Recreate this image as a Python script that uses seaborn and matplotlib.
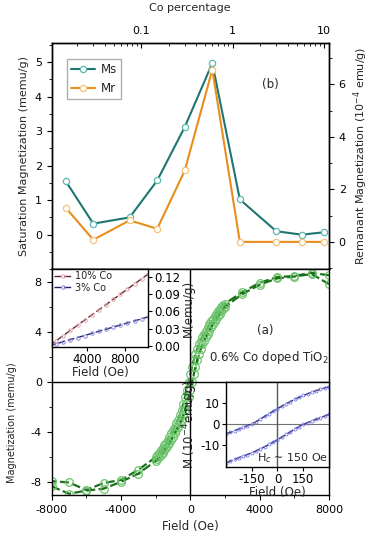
import matplotlib
matplotlib.use("Agg")
import matplotlib.pyplot as plt
import seaborn as sns
from matplotlib.ticker import MultipleLocator, NullFormatter

sns.set_style("ticks", {"axes.edgecolor": "black", "xtick.color": "black", "ytick.color": "black"})
plt.rcParams['font.family'] = ['DejaVu Sans']
plt.rcParams['axes.linewidth'] = 1.0
plt.rcParams['axes.unicode_minus'] = False
plt.rcParams['xtick.labelsize'] = 8
plt.rcParams['ytick.labelsize'] = 8
plt.rcParams['axes.labelsize'] = 8

# ---- (b) Co percentage dependence
co_pct = [0.015, 0.03, 0.075, 0.15, 0.3, 0.6, 1.2, 3.0, 5.7, 10.0]
ms_values = [1.55, 0.32, 0.50, 1.57, 3.12, 4.97, 1.02, 0.10, 0.00, 0.07]
mr_values = [1.30, 0.08, 0.82, 0.50, 2.72, 6.56, 0.00, 0.00, 0.00, 0.00]

# ---- (a) hysteresis loop, 0.6% Co doped TiO2
field_down = [8000, 7000, 6000, 5000, 4000, 3000, 2000,
              1900, 1800, 1700, 1600, 1500, 1400, 1300, 1200, 1100, 1000,
              900, 800, 700, 600, 500, 400, 300, 200, 100, 0,
              -100, -200, -300, -400, -500, -600, -700, -800, -900, -1000,
              -1100, -1200, -1300, -1400, -1500, -1600, -1700, -1800, -1900,
              -2000, -3000, -4000, -5000, -6000, -7000, -8000]
m_down = [8.5, 8.7, 8.45, 8.35, 7.9, 7.15, 6.25,
          6.15, 6.0, 5.85, 5.65, 5.45, 5.25, 5.05, 4.85, 4.6, 4.35,
          4.1, 3.85, 3.6, 3.3, 3.0, 2.6, 2.2, 1.75, 1.2, 0.6,
          0.0, -0.6, -1.2, -1.75, -2.2, -2.6, -3.0, -3.3, -3.6, -3.85,
          -4.1, -4.35, -4.6, -4.85, -5.05, -5.25, -5.45, -5.65, -5.85,
          -6.0, -7.0, -7.8, -8.05, -8.6, -8.0, -7.9]
field_up = [-8000, -7000, -6000, -5000, -4000, -3000, -2000,
            -1900, -1800, -1700, -1600, -1500, -1400, -1300, -1200, -1100, -1000,
            -900, -800, -700, -600, -500, -400, -300, -200, -100, 0,
            100, 200, 300, 400, 500, 600, 700, 800, 900, 1000,
            1100, 1200, 1300, 1400, 1500, 1600, 1700, 1800, 1900,
            2000, 3000, 4000, 5000, 6000, 7000, 8000]
m_up = [-8.3, -8.9, -8.65, -8.5, -7.95, -7.3, -6.3,
        -6.15, -6.0, -5.85, -5.65, -5.45, -5.25, -5.05, -4.85, -4.6, -4.35,
        -4.1, -3.85, -3.6, -3.3, -3.0, -2.6, -2.2, -1.75, -1.2, -0.6,
        0.0, 0.6, 1.2, 1.75, 2.2, 2.6, 3.0, 3.3, 3.6, 3.85,
        4.1, 4.35, 4.6, 4.85, 5.05, 5.25, 5.45, 5.65, 5.85,
        6.0, 7.0, 7.75, 8.25, 8.4, 8.6, 7.8]

# ---- inset: 10% and 3% Co, M(emu/g) vs field
inset_field = [0, 750, 1500, 2250, 3000, 3750, 4500, 5250, 6000, 6750,
               7500, 8250, 9000, 9750, 10500]
m_10pct = [0.000, 0.009, 0.018, 0.027, 0.036, 0.045, 0.054, 0.063, 0.072,
           0.081, 0.090, 0.099, 0.108, 0.117, 0.126]
m_3pct = [0.000, 0.0036, 0.0072, 0.011, 0.0145, 0.018, 0.0218, 0.0254,
          0.029, 0.0327, 0.0363, 0.040, 0.0436, 0.047, 0.051]

# ---- inset: low field loop (10^-4 emu/g)
low_field = [-300, -275, -250, -225, -200, -175, -150, -125, -100, -75, -50, -25, 0,
             25, 50, 75, 100, 125, 150, 175, 200, 225, 250, 275, 300]
low_upper = [-4.6, -3.9, -3.1, -2.3, -1.5, -0.7, 0.1, 1.2, 2.4, 3.7, 4.9, 6.2, 7.4,
             8.6, 9.7, 10.8, 11.8, 12.8, 13.7, 14.5, 15.3, 16.0, 16.7, 17.3, 17.9]
low_lower = [-18.5, -17.6, -16.8, -16.0, -15.3, -14.5, -13.7, -12.8, -11.8, -10.8, -9.7, -8.6, -7.4,
             -6.2, -4.9, -3.7, -2.4, -1.2, -0.1, 0.7, 1.5, 2.3, 3.1, 3.9, 4.7]

ms_color = '#1f7670'
mr_color = '#e98d1c'
loop_line = '#1c701c'
loop_marker = '#6cc46c'

fig = plt.figure(figsize=(3.79, 5.46), dpi=100)

# Panel (b)
ax_b = fig.add_axes([0.136, 0.507, 0.732, 0.414])
ax_r = ax_b.twinx()
sns.lineplot(x=co_pct, y=ms_values, ax=ax_b, color=ms_color, lw=1.5, marker='o',
             markersize=4.5, markerfacecolor='white', markeredgecolor='#5cb8b2',
             markeredgewidth=0.9, label='Ms', legend=False)
sns.lineplot(x=co_pct, y=mr_values, ax=ax_r, color=mr_color, lw=1.5, marker='o',
             markersize=4.5, markerfacecolor='white', markeredgecolor='#f5c27a',
             markeredgewidth=0.9, label='Mr', legend=False)
ax_b.set_xscale('log')
ax_b.set_xlim(0.0105, 11.3)
ax_b.set_ylim(-1.0, 5.55)
ax_r.set_ylim(-1.04, 7.57)
ax_b.xaxis.tick_top()
ax_b.xaxis.set_label_position('top')
ax_b.set_xticks([0.1, 1, 10], labels=['0.1', '1', '10'])
ax_b.xaxis.set_minor_formatter(NullFormatter())
ax_b.tick_params(axis='x', which='both', direction='in', top=True, bottom=False, pad=5)
ax_b.set_xlabel('Co percentage', labelpad=11)
ax_b.set_yticks([0, 1, 2, 3, 4, 5])
ax_b.yaxis.set_minor_locator(MultipleLocator(0.5))
ax_r.set_yticks([0, 2, 4, 6])
ax_r.yaxis.set_minor_locator(MultipleLocator(1))
ax_b.set_ylabel('Saturation Magnetization (memu/g)')
ax_r.set_ylabel('Remanant Magnetization (10$^{-4}$ emu/g)')
h1, l1 = ax_b.get_legend_handles_labels()
h2, l2 = ax_r.get_legend_handles_labels()
ax_r.legend(h1 + h2, l1 + l2, loc='upper left', bbox_to_anchor=(0.035, 0.955),
            fontsize=8.5, frameon=True, fancybox=False, edgecolor='0.6',
            handlelength=2.0, borderpad=0.35, labelspacing=0.45, handletextpad=0.5)
ax_b.text(0.79, 0.80, '(b)', transform=ax_b.transAxes, fontsize=8.5, ha='center')

# Panel (a)
ax_a = fig.add_axes([0.136, 0.0934, 0.732, 0.4139])
for fx, fy in [(field_down, m_down), (field_up, m_up)]:
    sns.lineplot(x=fx, y=fy, ax=ax_a, sort=False, estimator=None, color=loop_line,
                 lw=1.6, linestyle=(0, (4, 1.5)), marker='o', markersize=5.5,
                 markerfacecolor='none', markeredgecolor=loop_marker,
                 markeredgewidth=0.9, legend=False)
ax_a.axhline(0, color='black', lw=1.0)
ax_a.axvline(0, color='black', lw=1.0)
ax_a.set_xlim(-8000, 8000)
ax_a.set_ylim(-9, 9)
ax_a.set_xticks([-8000, -4000, 0, 4000, 8000])
ax_a.xaxis.set_minor_locator(MultipleLocator(2000))
ax_a.set_yticks([-8, -4, 0, 4, 8])
ax_a.yaxis.set_minor_locator(MultipleLocator(2))
ax_a.set_xlabel('Field (Oe)', fontsize=8.5)
ax_a.set_ylabel('Magnetization (memu/g)', fontsize=7)
ax_a.yaxis.set_label_coords(-0.125, 0.32)
ax_a.text(4300, 3.8, '(a)', fontsize=8.5, ha='center')
ax_a.text(4500, 1.7, '0.6% Co doped TiO$_2$', fontsize=8.5, ha='center')

# Inset: 10% / 3% Co
ax_i1 = fig.add_axes([0.137, 0.3645, 0.2533, 0.1429])
ax_i1.set_facecolor('white')
sns.lineplot(x=inset_field, y=m_10pct, ax=ax_i1, color='#5e2a36', lw=1.0,
             linestyle=(0, (5, 2)), marker='o', markersize=2.5, markerfacecolor='none',
             markeredgecolor='#e6a6a6', markeredgewidth=0.7, label='10% Co', legend=False)
sns.lineplot(x=inset_field, y=m_3pct, ax=ax_i1, color='#22225e', lw=1.0,
             linestyle=(0, (5, 2)), marker='o', markersize=2.5, markerfacecolor='none',
             markeredgecolor='#8a8ae0', markeredgewidth=0.7, label='3% Co', legend=False)
ax_i1.set_xlim(300, 10400)
ax_i1.set_ylim(-0.002, 0.134)
ax_i1.set_xticks([4000, 8000])
ax_i1.set_yticks([0.0, 0.03, 0.06, 0.09, 0.12], labels=['0.00', '0.03', '0.06', '0.09', '0.12'])
ax_i1.yaxis.tick_right()
ax_i1.yaxis.set_label_position('right')
ax_i1.tick_params(labelsize=8.5, pad=1.5, length=3)
ax_i1.set_ylabel('M(emu/g)', fontsize=8.5, labelpad=1)
ax_i1.set_xlabel('Field (Oe)', fontsize=8.5, labelpad=0)
ax_i1.legend(loc='upper left', fontsize=7, frameon=False, handlelength=1.8,
             borderaxespad=0.1, borderpad=0.1, labelspacing=0.2, handletextpad=0.4)

# Inset: low field loop
ax_i2 = fig.add_axes([0.5963, 0.1453, 0.2717, 0.1557])
ax_i2.set_facecolor('white')
ax_i2.axhline(0, color='0.45', lw=0.8)
ax_i2.axvline(0, color='0.35', lw=1.0)
for yy in [low_upper, low_lower]:
    sns.lineplot(x=low_field, y=yy, ax=ax_i2, color='#22226a', lw=1.0,
                 linestyle=(0, (5, 2)), marker='o', markersize=2.2,
                 markerfacecolor='none', markeredgecolor='#7a7ae2',
                 markeredgewidth=0.6, legend=False)
ax_i2.set_xlim(-300, 300)
ax_i2.set_ylim(-20.3, 20.3)
ax_i2.set_xticks([-150, 0, 150])
ax_i2.set_yticks([-10, 0, 10])
ax_i2.tick_params(labelsize=8.5, pad=1.5, length=3)
ax_i2.set_xlabel('Field (Oe)', fontsize=8.5, labelpad=0)
ax_i2.set_ylabel('M (10$^{-4}$emu/g)', fontsize=8.5, labelpad=0)
ax_i2.text(0.65, 0.07, 'H$_c$ ~ 150 Oe', transform=ax_i2.transAxes, fontsize=8, ha='center')

fig.savefig('out.png', dpi=100)
